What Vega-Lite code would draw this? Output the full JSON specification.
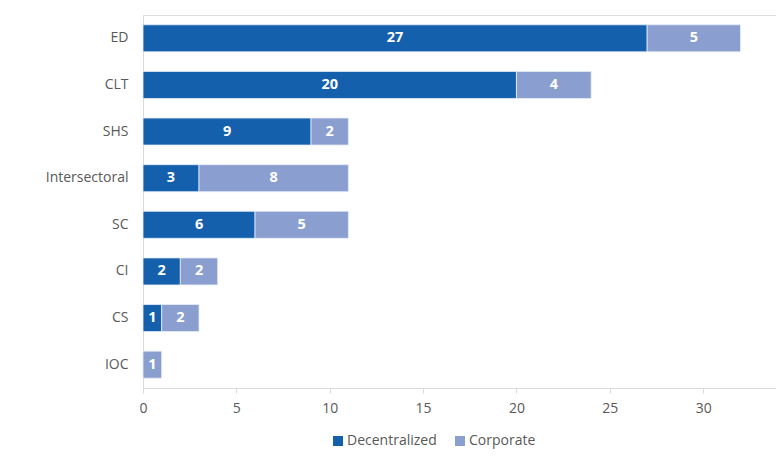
{
  "$schema": "https://vega.github.io/schema/vega-lite/v6.json",
  "width": 633,
  "height": 373,
  "autosize": {"type": "none"},
  "padding": {"left": 143, "top": 15, "right": 0, "bottom": 69},
  "background": "white",
  "data": {"values": [
    {"cat": "ED", "type": "Decentralized", "value": 27},
    {"cat": "ED", "type": "Corporate", "value": 5},
    {"cat": "CLT", "type": "Decentralized", "value": 20},
    {"cat": "CLT", "type": "Corporate", "value": 4},
    {"cat": "SHS", "type": "Decentralized", "value": 9},
    {"cat": "SHS", "type": "Corporate", "value": 2},
    {"cat": "Intersectoral", "type": "Decentralized", "value": 3},
    {"cat": "Intersectoral", "type": "Corporate", "value": 8},
    {"cat": "SC", "type": "Decentralized", "value": 6},
    {"cat": "SC", "type": "Corporate", "value": 5},
    {"cat": "CI", "type": "Decentralized", "value": 2},
    {"cat": "CI", "type": "Corporate", "value": 2},
    {"cat": "CS", "type": "Decentralized", "value": 1},
    {"cat": "CS", "type": "Corporate", "value": 2},
    {"cat": "IOC", "type": "Corporate", "value": 1}
  ]},
  "encoding": {
    "y": {
      "field": "cat", "type": "nominal",
      "sort": ["ED", "CLT", "SHS", "Intersectoral", "SC", "CI", "CS", "IOC"],
      "scale": {"paddingInner": 0.42, "paddingOuter": 0.21},
      "axis": {"title": null, "ticks": false, "labelPadding": 15, "domainColor": "#d9d9d9", "labelColor": "#595959", "labelFontSize": 14, "labelFont": "Open Sans"}
    }
  },
  "layer": [
    {
      "mark": {"type": "bar", "stroke": "#e8eef8", "strokeWidth": 0.8},
      "encoding": {
        "x": {
          "field": "value", "type": "quantitative", "stack": "zero",
          "scale": {"domain": [0, 33.9], "nice": false},
          "axis": {"title": null, "values": [0, 5, 10, 15, 20, 25, 30], "grid": false, "labelFlush": false, "tickSize": 5, "tickColor": "#d9d9d9", "domainColor": "#d9d9d9", "labelColor": "#595959", "labelFontSize": 14, "labelFont": "Open Sans", "labelPadding": 8}
        },
        "color": {
          "field": "type", "type": "nominal",
          "sort": ["Decentralized", "Corporate"],
          "scale": {"domain": ["Decentralized", "Corporate"], "range": ["#1560ad", "#8a9fcf"]},
          "legend": {"title": null, "orient": "none", "direction": "horizontal", "legendX": 188, "legendY": 419, "symbolType": "square", "symbolSize": 100, "symbolStrokeWidth": 0, "labelFontSize": 14, "labelFont": "Open Sans", "labelColor": "#595959", "labelOffset": 2, "columnPadding": 16}
        },
        "order": {"field": "type", "sort": "descending"}
      }
    },
    {
      "mark": {"type": "text", "color": "white", "fontWeight": "bold", "fontSize": 14.5, "font": "Open Sans", "baseline": "middle", "align": "center"},
      "encoding": {
        "x": {"field": "value", "type": "quantitative", "stack": "zero", "bandPosition": 0.5},
        "text": {"field": "value", "type": "quantitative"},
        "detail": {"field": "type"},
        "order": {"field": "type", "sort": "descending"}
      }
    }
  ]
}
